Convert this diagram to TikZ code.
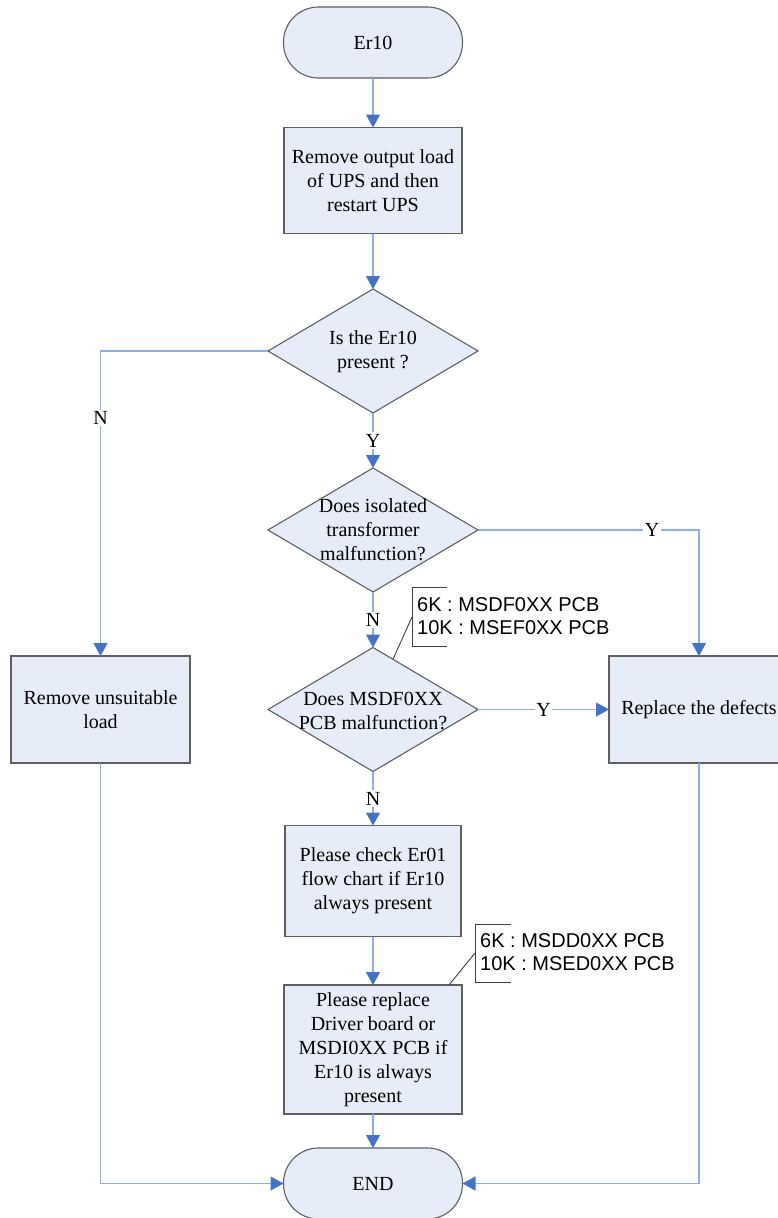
\documentclass[tikz,border=0pt]{standalone}
\usepackage{fontspec}
\setmainfont{Liberation Serif}
\newfontfamily\calloutfont{Liberation Sans}
\usetikzlibrary{shapes.geometric,arrows.meta,calc}

\definecolor{boxfill}{RGB}{230,237,248}
\definecolor{boxline}{RGB}{95,95,95}
\definecolor{flowline}{RGB}{140,176,226}
\definecolor{flowtip}{RGB}{68,114,196}

\begin{document}
\begin{tikzpicture}[x=1pt,y=-1pt,
  base/.style={draw=boxline, line width=1.1pt, fill=boxfill, inner sep=0pt, outer sep=0pt,
    font=\fontsize{20}{24}\selectfont, align=center},
  terminal/.style={base, rounded corners=35pt, minimum width=179pt, minimum height=71pt},
  process/.style={base, minimum width=178pt, minimum height=107pt},
  decision/.style={base, diamond, minimum width=210pt, minimum height=124pt},
  caption/.style={font=\fontsize{20}{24}\selectfont, align=center, inner sep=0pt},
  flow/.style={draw=flowline, line width=1.3pt, -{Triangle[width=14pt,length=13pt,color=flowtip]}},
  tag/.style={fill=white, font=\fontsize{20}{20}\selectfont, inner sep=1.5pt},
  callout/.style={font=\calloutfont\fontsize{20}{23}\selectfont, align=left, inner sep=0pt, anchor=west},
  bracket/.style={draw=black!75, line width=0.9pt}
]
% page frame
\fill[white] (0,0) rectangle (777,1218);
\useasboundingbox (0,0) rectangle (777,1218);

% main column
\node[terminal] (start) at (373,42.5) {Er10};
\node[process, minimum height=106pt] (p1) at (373,180.5) {Remove output load\\of UPS and then\\restart UPS};
\node[decision] (d1) at (373,351) {};
\node[caption] (d1t) at (373,352) {Is the Er10\\present ?};
\node[decision] (d2) at (373,530) {};
\node[caption] (d2t) at (373,530) {Does isolated\\transformer\\malfunction?};
\node[decision] (d3) at (373,709.5) {};
\node[caption] (d3t) at (373,711) {Does MSDF0XX\\PCB malfunction?};
\node[process, minimum width=176pt, minimum height=111pt] (p2) at (373,881) {Please check Er01\\flow chart if Er10\\always present};
\node[process, minimum height=129pt] (p3) at (373,1049.5) {Please replace\\Driver board or\\MSDI0XX PCB if\\Er10 is always\\present};
\node[terminal] (end) at (373,1183.5) {END};

% side boxes
\node[process, minimum width=179pt] (left) at (100.5,709.5) {Remove unsuitable\\load};
\node[process, minimum width=180pt] (right) at (699,709.5) {Replace the defects};

% connectors
\draw[flow] (start) -- (p1);
\draw[flow] (p1) -- (d1);
\draw[flow] (d1) -- node[tag]{Y} (d2);
\draw[flow] (d2) -- node[tag]{N} (d3);
\draw[flow] (d3) -- node[tag]{N} (p2);
\draw[flow] (p2) -- (p3);
\draw[flow] (p3) -- (end);
\draw[flow] (d1.west) -| node[tag, pos=0.61]{N} (left.north);
\draw[flow] (left.south) |- (end.west);
\draw[flow] (d2.east) -| node[tag, pos=0.394]{Y} (right.north);
\draw[flow] (d3.east) -- node[tag]{Y} (right.west);
\draw[flow] (right.south) |- (end.east);

% callout for the MSDF0XX decision
\node[callout] (c1) at (417,616) {6K : MSDF0XX PCB\\10K : MSEF0XX PCB};
\coordinate (c1tip) at ($(d3.north)!0.19!(d3.east)$);
\draw[bracket] (447,587) -- (412,587) -- (412,646) -- (447,646);
\draw[bracket] (412,617) -- (c1tip);

% callout for the driver board box
\node[callout] (c2) at (480,952) {6K : MSDD0XX PCB\\10K : MSED0XX PCB};
\coordinate (c2tip) at ($(p3.north east)+(-13,0)$);
\draw[bracket] (511,924) -- (475,924) -- (475,982) -- (511,982);
\draw[bracket] (475,953) -- (c2tip);
\end{tikzpicture}
\end{document}
